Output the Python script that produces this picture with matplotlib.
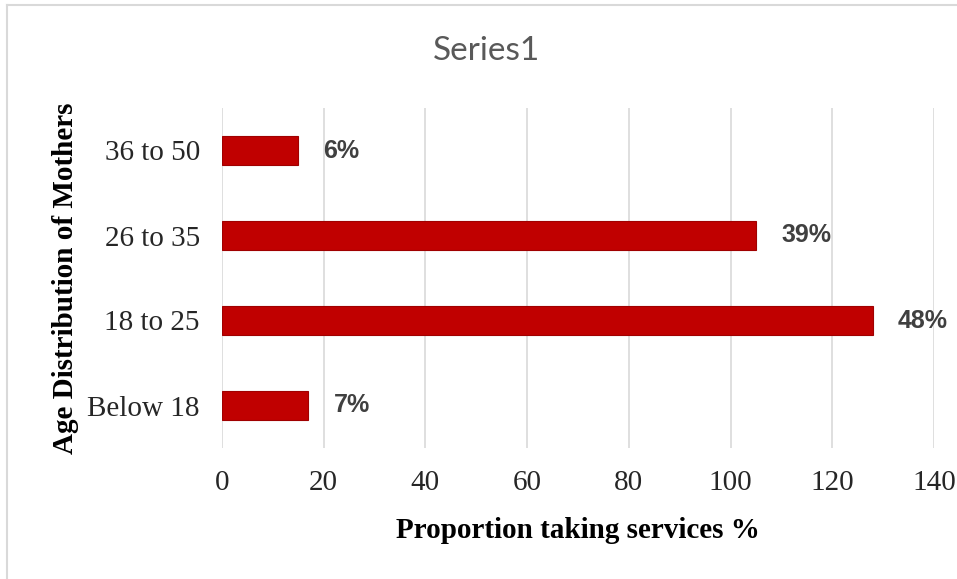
import matplotlib
matplotlib.use('Agg')
import matplotlib.pyplot as plt
from matplotlib.lines import Line2D

# respondents per age group and the share labels shown on the bars
ages = ['Below 18', '18 to 25', '26 to 35', '36 to 50']
counts = [17, 128, 105, 15]
shares = ['7%', '48%', '39%', '6%']
xticks = [0, 20, 40, 60, 80, 100, 120, 140]

W, H = 957, 579
fig = plt.figure(figsize=(W / 100, H / 100), dpi=100)
fig.patch.set_facecolor('white')

# plot area in pixel coordinates
left, right, top, bottom = 222, 934, 108, 448
ax = fig.add_axes([left / W, 1 - bottom / H, (right - left) / W, (bottom - top) / H])

ax.barh(range(len(ages)), counts, height=0.35, color='#c00000',
        edgecolor='#a00000', linewidth=0.8, zorder=3)

for i, (v, s) in enumerate(zip(counts, shares)):
    ax.annotate(s, (v, i), xytext=(18, 0), textcoords='offset points',
                ha='left', va='center', fontsize=18, fontweight='bold',
                family='Liberation Sans', color='#404040')

ax.set_xlim(0, 140)
ax.set_ylim(-0.5, len(ages) - 0.5)
ax.set_xticks(xticks)
ax.set_yticks(range(len(ages)))
ax.set_yticklabels(ages)
ax.grid(axis='x', color='#d9d9d9', linewidth=1.2, zorder=0)
for sp in ax.spines.values():
    sp.set_visible(False)
ax.tick_params(length=0, pad=16)
for lab in ax.get_xticklabels() + ax.get_yticklabels():
    lab.set_family('Liberation Serif')
    lab.set_fontsize(21)
    lab.set_color('#262626')

ax.set_xlabel('Proportion taking services %', family='Liberation Serif',
              fontweight='bold', fontsize=21, labelpad=15)
ax.set_ylabel('Age Distribution of Mothers', family='Liberation Serif',
              fontweight='bold', fontsize=21, labelpad=6)

fig.text(487 / W, 1 - 51 / H, 'Series1', ha='center', va='center',
         family='Lato', fontsize=24, color='#595959')

# thin frame along the top and left of the chart
fig.add_artist(Line2D([7 / W, 7 / W], [0, 1 - 4.5 / H], color='#d9d9d9', lw=1.5))
fig.add_artist(Line2D([7 / W, 1], [1 - 4.5 / H, 1 - 4.5 / H], color='#d9d9d9', lw=1.5))

fig.savefig('out.png', dpi=100)
